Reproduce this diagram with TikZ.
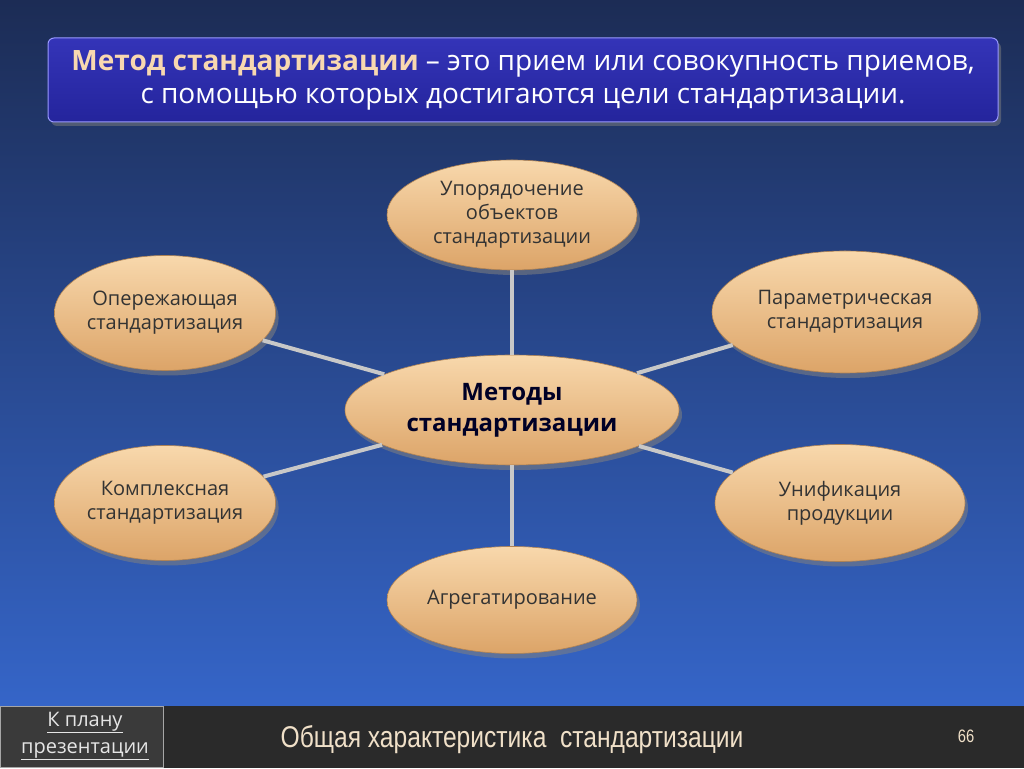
\documentclass[tikz,border=0pt]{standalone}
\usepackage{fontspec}
\setmainfont{Open Sans}
\newfontfamily\narrowfont[FakeStretch=0.82]{Liberation Sans}
\usetikzlibrary{shapes.geometric,shadows}
\definecolor{bgtop}{HTML}{1C2C55}
\definecolor{bgbot}{HTML}{3565C8}
\definecolor{footbg}{HTML}{2A2A2A}
\definecolor{btnbg}{HTML}{3A3A3A}
\definecolor{peachtop}{HTML}{F8D8AC}
\definecolor{peachbot}{HTML}{DCA468}
\definecolor{titletop}{HTML}{3434B8}
\definecolor{titlebot}{HTML}{24249C}
\definecolor{titlepeach}{HTML}{F8D8B0}
\definecolor{linkcol}{HTML}{C8C8C8}
\definecolor{ovaltext}{HTML}{333333}
\definecolor{foottext}{HTML}{F0E0C8}
\tikzset{
  oval/.style={ellipse, inner sep=0pt, top color=peachtop, bottom color=peachbot,
    draw=peachbot!80!black, line width=0.6pt, align=center, text=ovaltext,
    font=\fontsize{20}{24}\selectfont,
    drop shadow={opacity=0.55, shadow xshift=3pt, shadow yshift=-5pt}},
  link/.style={draw=linkcol, line width=4pt},
}
\begin{document}
\begin{tikzpicture}[x=1pt,y=1pt]
\useasboundingbox (0,0) rectangle (1024,768);
\shade[top color=bgtop, bottom color=bgbot] (0,62) rectangle (1024,768);
\fill[footbg] (0,0) rectangle (1024,62);
\draw[fill=btnbg, draw=gray!70] (0.5,0.5) rectangle (163,62);
% title box
\node[draw=blue!40!white, line width=1pt, rounded corners=6pt, top color=titletop, bottom color=titlebot,
  minimum width=950pt, minimum height=84pt, inner sep=0pt, align=center,
  drop shadow={opacity=0.5, shadow xshift=3pt, shadow yshift=-4pt},
  font=\fontsize{28}{33}\selectfont, text=white] (title) at (523,688)
  {{\bfseries\color{titlepeach}Метод стандартизации} – это прием или совокупность приемов,\\
   с помощью которых достигаются цели стандартизации.};
% ovals
\node[oval, minimum width=250pt, minimum height=110pt] (top) at (512,553) {Упорядочение\\объектов\\стандартизации};
\node[oval, minimum width=216pt, minimum height=115pt] (lu) at (165,455) {Опережающая\\стандартизация};
\node[oval, minimum width=266pt, minimum height=122pt] (ru) at (845,456) {Параметрическая\\стандартизация};
\node[oval, minimum width=216pt, minimum height=115pt] (ll) at (165,265) {Комплексная\\стандартизация};
\node[oval, minimum width=250pt, minimum height=117pt] (rl) at (840,265) {Унификация\\продукции};
\node[oval, minimum width=250pt, minimum height=107pt] (bot) at (512,168) {Агрегатирование};
\node[oval, minimum width=334pt, minimum height=110pt, text=black!85!blue,
  font=\fontsize{24}{31}\selectfont\bfseries] (c) at (512,358) {Методы\\стандартизации};
% links
\draw[link] (c) -- (top);
\draw[link] (c) -- (lu);
\draw[link] (c) -- (ru);
\draw[link] (c) -- (ll);
\draw[link] (c) -- (rl);
\draw[link] (c) -- (bot);
% footer
\node[text=gray!20, align=center, font=\fontsize{20}{27}\selectfont] (plan) at (85,32)
  {\underline{К плану}\\\underline{презентации}};
\node[text=foottext, font=\fontsize{30}{34}\narrowfont] (foot) at (512,28) {Общая характеристика\ \ стандартизации};
\node[text=foottext, font=\fontsize{18}{20}\narrowfont] (num) at (966,32) {66};
\end{tikzpicture}
\end{document}
